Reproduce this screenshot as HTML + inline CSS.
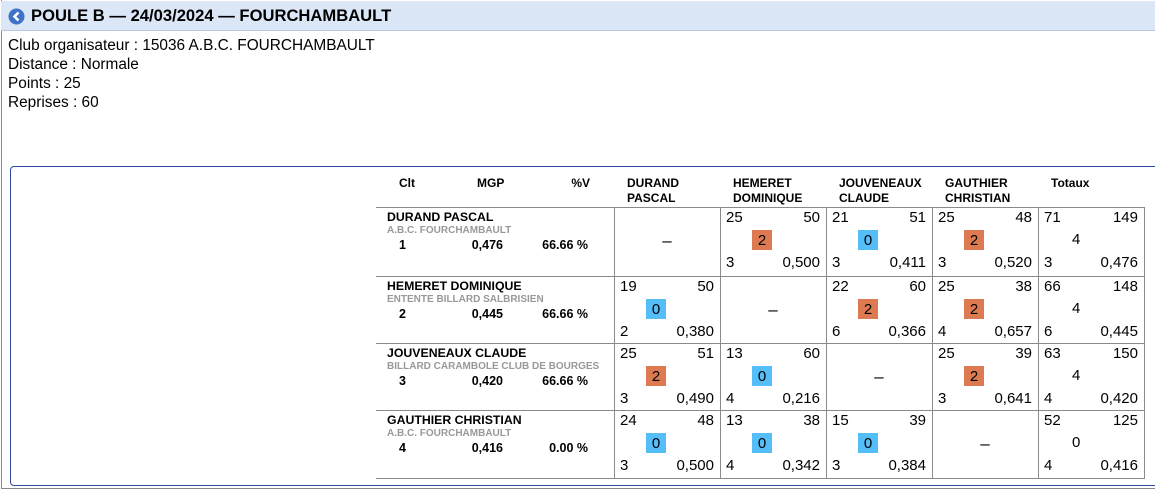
<!DOCTYPE html>
<html><head><meta charset="utf-8"><style>
body{margin:0;width:1155px;height:489px;overflow:hidden;background:#fff;font-family:"Liberation Sans",sans-serif;color:#000;position:relative}
.abs{position:absolute}
#hdr{left:1px;top:1px;width:1154px;height:29px;background:#dbe6f7;border-bottom:1px solid #b9c8e0}
#outer{left:1px;top:0;width:1160px;height:488px;border-left:1px solid #888;border-bottom:1px solid #888}
#box{left:10px;top:166px;width:1160px;height:318px;border:1px solid #2c4a9c;border-radius:4px}
.b{font-weight:bold}
.line{background:#8a8a8a}
.badge{width:20px;height:20px;text-align:center;line-height:21px;font-size:15px}
</style></head><body>
<div id="outer" class="abs"></div>
<div id="hdr" class="abs">
<svg class="abs" style="left:7px;top:7px" width="17" height="17"><circle cx="8.5" cy="8.5" r="8" fill="#3f73c8"/><path d="M10.5 4.5 L6.5 8.5 L10.5 12.5" stroke="#fff" stroke-width="2.6" fill="none"/></svg>
<div class="abs b" style="left:30px;top:5px;font-size:16.6px">POULE B — 24/03/2024 — FOURCHAMBAULT</div>
</div>
<div class="abs" style="left:8px;top:36px;font-size:15.4px;line-height:19px">Club organisateur : 15036 A.B.C. FOURCHAMBAULT<br>Distance : Normale<br>Points : 25<br>Reprises : 60</div>
<div id="box" class="abs"></div>
<div id="tbl"></div>
<script>
const players=["DURAND PASCAL","HEMERET DOMINIQUE","JOUVENEAUX CLAUDE","GAUTHIER CHRISTIAN"];
const hdrNames=[["DURAND","PASCAL"],["HEMERET","DOMINIQUE"],["JOUVENEAUX","CLAUDE"],["GAUTHIER","CHRISTIAN"],["Totaux",""]];
const clubs=["A.B.C. FOURCHAMBAULT","ENTENTE BILLARD SALBRISIEN","BILLARD CARAMBOLE CLUB DE BOURGES","A.B.C. FOURCHAMBAULT"];
const clt=["1","2","3","4"];
const mgp=["0,476","0,445","0,420","0,416"];
const pctV=["66.66 %","66.66 %","66.66 %","0.00 %"];
// [points, reprises, matchPts, bestSeries, avg] ; null = diagonal
const matches=[
 [null,[25,50,2,3,"0,500"],[21,51,0,3,"0,411"],[25,48,2,3,"0,520"],[71,149,4,3,"0,476"]],
 [[19,50,0,2,"0,380"],null,[22,60,2,6,"0,366"],[25,38,2,4,"0,657"],[66,148,4,6,"0,445"]],
 [[25,51,2,3,"0,490"],[13,60,0,4,"0,216"],null,[25,39,2,3,"0,641"],[63,150,4,4,"0,420"]],
 [[24,48,0,3,"0,500"],[13,38,0,4,"0,342"],[15,39,0,3,"0,384"],null,[52,125,0,4,"0,416"]]
];
const colX=[614,720,826,932,1038,1144];
const rowY=[207,276,343,410,478];
const T=document.getElementById('tbl');
function el(css,html,name,bold){const d=document.createElement('div');d.className='abs'+(bold?' b':'');d.style.cssText=css;d.innerHTML=html;


T.appendChild(d);return d;}
el('left:399px;top:176px;font-size:12px','Clt','header-clt',1);
el('left:477px;top:176px;font-size:12px','MGP','header-mgp',1);
el('left:540px;top:176px;width:50px;text-align:right;font-size:12px','%V','header-pct',1);
hdrNames.forEach((n,i)=>el('left:'+(colX[i]+13)+'px;top:176px;font-size:12px;line-height:15px',n[0]+'<br>'+n[1],'column-header',1));
rowY.forEach(y=>el('left:376px;top:'+y+'px;width:'+(1145-376)+'px;height:1px','','row-line').classList.add('line'));
colX.forEach(x=>el('left:'+x+'px;top:207px;width:1px;height:'+(478-207)+'px','','col-line').classList.add('line'));
players.forEach((p,r)=>{
 const y=rowY[r];
 el('left:387px;top:'+(y+3)+'px;font-size:12.3px',p,'player-name',1);
 el('left:387px;top:'+(y+18)+'px;font-size:10px;color:#999',clubs[r],'player-club',1);
 el('left:399px;top:'+(y+31)+'px;font-size:12.5px',clt[r],'player-rank',1);
 el('left:440px;top:'+(y+31)+'px;width:63px;text-align:right;font-size:12.5px',mgp[r],'player-mgp',1);
 el('left:520px;top:'+(y+31)+'px;width:68px;text-align:right;font-size:12.5px',pctV[r],'player-pct',1);
 matches[r].forEach((m,c)=>{
  const x=colX[c];
  if(!m){el('left:'+x+'px;top:'+(y+24)+'px;width:106px;text-align:center;font-size:17px','–','diagonal-dash');return;}
  el('left:'+(x+6)+'px;top:'+(y+2)+'px;font-size:15px',m[0],'points');
  el('left:'+(x+50)+'px;top:'+(y+2)+'px;width:50px;text-align:right;font-size:15px',m[1],'reprises');
  if(c<4){const b=el('left:'+(x+32)+'px;top:'+(y+23)+'px;background:'+(m[2]>0?'#dd7a52':'#55bdf7'),m[2],'match-points-badge');b.classList.add('badge');}
  else el('left:'+(x+34)+'px;top:'+(y+24)+'px;font-size:15px',m[2],'total-match-points');
  el('left:'+(x+6)+'px;top:'+(y+47)+'px;font-size:15px',m[3],'best-series');
  el('left:'+(x+50)+'px;top:'+(y+47)+'px;width:50px;text-align:right;font-size:15px',m[4],'average');
 });
});
</script>
</body></html>
